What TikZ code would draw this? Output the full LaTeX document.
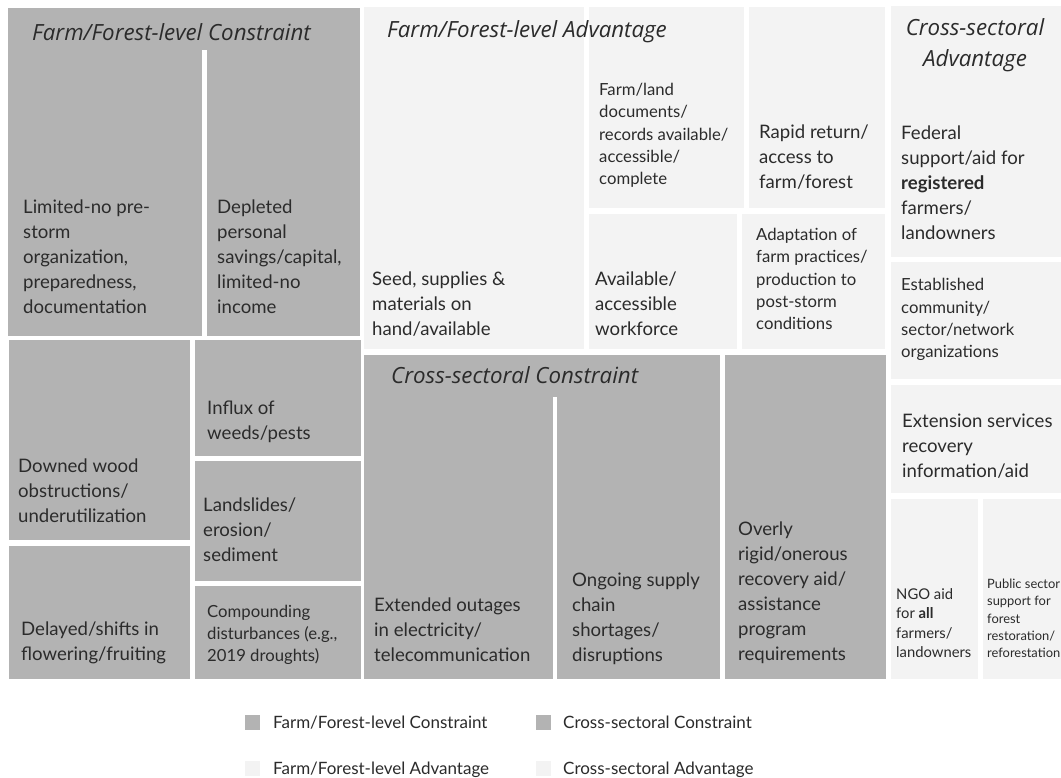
\documentclass[tikz,border=0pt]{standalone}
\usepackage{fontspec}
\setmainfont{Lato}
\newfontfamily\ttlfont{Open Sans}
\usetikzlibrary{positioning}
\definecolor{congray}{HTML}{B3B3B3}
\definecolor{advgray}{HTML}{F3F3F3}
\definecolor{ink}{HTML}{2B2B2B}

\begin{document}
\begin{tikzpicture}[
    x=1pt, y=-1pt,
    every node/.style={text=ink, inner sep=0pt},
    con/.style={fill=congray},
    adv/.style={fill=advgray},
    cell/.style={anchor=south west, align=left, text depth=0pt, font=\fontsize{18.6}{25}\selectfont},
    cellmid/.style={cell, font=\fontsize{16.7}{22.3}\selectfont},
    cellsmall/.style={cell, font=\fontsize{14.8}{19.5}\selectfont},
    celltiny/.style={cell, font=\fontsize{12.9}{17.3}\selectfont},
    grouptitle/.style={anchor=base west, font=\ttlfont\itshape\fontsize{22.3}{31}\selectfont},
    gap/.style={draw=white, line width=4.5pt},
    swatch/.style={minimum size=15pt},
    keytext/.style={anchor=base west, font=\fontsize{17}{20}\selectfont}
]

    % Canvas
    \fill[white] (0,0) rectangle (1061,777);
    \useasboundingbox (0,0) rectangle (1061,777);

    % Constraint cells (grey)
    \foreach \xa/\ya/\xb/\yb in {8/8/360/336, 9/340/190/540, 9/546/190/679,
        195/340/361/456, 195/461/361/581, 195/586/361/679,
        364/355/720/679, 725/355/886/679} {
        \fill[con] (\xa,\ya) rectangle (\xb,\yb);
    }

    % Advantage cells (light)
    \foreach \xa/\ya/\xb/\yb in {364/7/584/349, 589/7/744/208, 749/7/885/208,
        589/214/737/349, 742/214/885/349,
        891/6/1061/257, 891/262/1061/379, 891/385/1061/493,
        891/499/978/679, 983/499/1061/679} {
        \fill[adv] (\xa,\ya) rectangle (\xb,\yb);
    }

    % Splits inside the grouped cells
    \draw[gap] (204.5,50) -- (204.5,336);
    \draw[gap] (555,397) -- (555,679);

    % Group titles
    \node[grouptitle] (t-ffc) at (32,40) {Farm/Forest-level Constraint};
    \node[grouptitle] (t-ffa) at (387,37) {Farm/Forest-level Advantage};
    \node[grouptitle] (t-csc) at (391,383) {Cross-sectoral Constraint};
    \node[grouptitle, align=center, anchor=south, text depth=0pt] (t-csa) at (975,67) {Cross-sectoral\\Advantage};

    % Farm/Forest-level Constraint
    \node[cell] (lim) at (23,314) {Limited-no pre-\\storm\\organization,\\preparedness,\\documentation};
    \node[cell] (depl) at (217,314) {Depleted\\personal\\savings/capital,\\limited-no\\income};
    \node[cell] (downed) at (18,523) {Downed wood\\obstructions/\\underutilization};
    \node[cell] (delay) at (21,661) {Delayed/shifts in\\flowering/fruiting};
    \node[cell] (influx) at (207,440) {Influx of\\weeds/pests};
    \node[cell] (slides) at (203,562) {Landslides/\\erosion/\\sediment};
    \node[cellmid] (compound) at (207,662) {Compounding\\disturbances (e.g.,\\2019 droughts)};

    % Cross-sectoral Constraint
    \node[cell] (outage) at (374,662) {Extended outages\\in electricity/\\telecommunication};
    \node[cell] (supply) at (572,662) {Ongoing supply\\chain\\shortages/\\disruptions};
    \node[cell] (rigid) at (738,661) {Overly\\rigid/onerous\\recovery aid/\\assistance\\program\\requirements};

    % Farm/Forest-level Advantage
    \node[cell] (seed) at (372,336) {Seed, supplies \&\\materials on\\hand/available};
    \node[cellmid] (records) at (599,185) {Farm/land\\documents/\\records available/\\accessible/\\complete};
    \node[cell] (rapid) at (759,189) {Rapid return/\\access to\\farm/forest};
    \node[cell] (workforce) at (595,336) {Available/\\accessible\\workforce};
    \node[cellmid] (adapt) at (756,330) {Adaptation of\\farm practices/\\production to\\post-storm\\conditions};

    % Cross-sectoral Advantage
    \node[cell] (federal) at (901,240) {Federal\\support/aid for\\\textbf{registered}\\farmers/\\landowners};
    \node[cellmid] (network) at (901,358) {Established\\community/\\sector/network\\organizations};
    \node[cell] (extension) at (902,478) {Extension services\\recovery\\information/aid};
    \node[cellsmall] (ngo) at (896,658) {NGO aid\\for \textbf{all}\\farmers/\\landowners};
    \node[celltiny] (public) at (987,658) {Public sector\\support for\\forest\\restoration/\\reforestation};

    % Legend
    \node[swatch, fill=congray] (sw1) at (252.5,722.5) {};
    \node[swatch, fill=congray] (sw2) at (543,722.5) {};
    \node[swatch, fill=advgray] (sw3) at (252.5,768) {};
    \node[swatch, fill=advgray] (sw4) at (543,768) {};
    \node[keytext] (k1) at (273,728) {Farm/Forest-level Constraint};
    \node[keytext] (k2) at (563,728) {Cross-sectoral Constraint};
    \node[keytext] (k3) at (273,774) {Farm/Forest-level Advantage};
    \node[keytext] (k4) at (563,774) {Cross-sectoral Advantage};

\end{tikzpicture}
\end{document}
